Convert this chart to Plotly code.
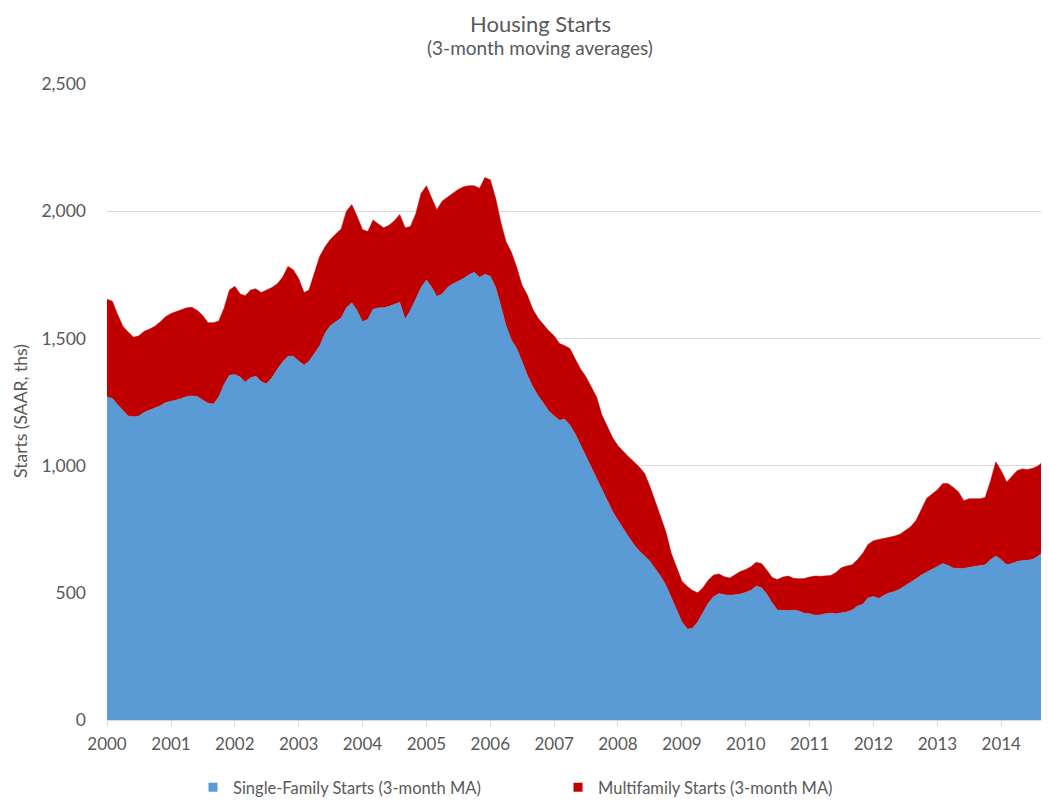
import pandas as pd
import plotly.graph_objects as go

# Monthly, Jan 2000 - Oct 2014 (thousands, SAAR, 3-month moving averages)
months = pd.date_range("2000-01-01", periods=178, freq="MS")

total_starts = [
    1654, 1646, 1595, 1548, 1525, 1505, 1510, 1528, 1537, 1548, 1565, 1585,  # 2000
    1598, 1605, 1610, 1620, 1622, 1610, 1590, 1562, 1562, 1568, 1620, 1690,  # 2001
    1705, 1675, 1668, 1690, 1695, 1680, 1690, 1700, 1715, 1740, 1783, 1770,  # 2002
    1735, 1680, 1690, 1760, 1822, 1860, 1889, 1910, 1930, 2000, 2026, 1980,  # 2003
    1928, 1920, 1965, 1950, 1935, 1945, 1962, 1987, 1935, 1940, 1990, 2070,  # 2004
    2100, 2050, 2006, 2040, 2055, 2073, 2085, 2096, 2100, 2100, 2090, 2132,  # 2005
    2124, 2050, 1960, 1880, 1840, 1780, 1710, 1670, 1615, 1580, 1555, 1530,  # 2006
    1510, 1480, 1472, 1460, 1420, 1380, 1350, 1310, 1270, 1200, 1156, 1110,  # 2007
    1078, 1055, 1035, 1015, 995, 970, 920, 860, 800, 740, 655, 600,          # 2008
    545, 525, 510, 500, 520, 550, 570, 574, 563, 558, 570, 584,              # 2009
    592, 603, 620, 615, 590, 560, 552, 562, 566, 557, 555, 556,              # 2010
    562, 566, 565, 566, 568, 580, 598, 605, 610, 630, 655, 690,              # 2011
    705, 710, 713, 718, 723, 730, 745, 760, 785, 830, 872, 888,              # 2012
    905, 930, 930, 915, 897, 862, 870, 870, 870, 875, 940, 1015,             # 2013
    980, 935, 955, 980, 987, 985, 990, 999, 1019, 1000,                      # 2014
]

single_family = [
    1270, 1264, 1240, 1215, 1195, 1192, 1195, 1210, 1218, 1225, 1235, 1248,  # 2000
    1252, 1258, 1264, 1272, 1274, 1272, 1258, 1245, 1242, 1270, 1320, 1355,  # 2001
    1358, 1348, 1328, 1345, 1352, 1330, 1322, 1345, 1379, 1407, 1430, 1430,  # 2002
    1411, 1395, 1410, 1440, 1470, 1520, 1550, 1565, 1580, 1620, 1640, 1610,  # 2003
    1565, 1575, 1615, 1620, 1620, 1626, 1635, 1642, 1575, 1610, 1655, 1700,  # 2004
    1730, 1700, 1665, 1675, 1700, 1715, 1725, 1735, 1750, 1760, 1740, 1752,  # 2005
    1744, 1700, 1630, 1550, 1495, 1460, 1410, 1355, 1310, 1275, 1245, 1215,  # 2006
    1195, 1178, 1183, 1160, 1125, 1080, 1035, 990, 950, 905, 860, 820,       # 2007
    785, 750, 720, 690, 665, 645, 625, 595, 565, 530, 480, 435,              # 2008
    385, 358, 360, 385, 420, 460, 485, 497, 492, 490, 492, 495,              # 2009
    502, 510, 527, 520, 495, 460, 432, 431, 430, 432, 428, 420,              # 2010
    418, 412, 413, 418, 420, 418, 420, 425, 432, 448, 455, 480,              # 2011
    485, 478, 490, 500, 505, 515, 528, 540, 555, 570, 582, 594,              # 2012
    605, 615, 608, 597, 596, 596, 600, 603, 605, 610, 630, 645,              # 2013
    630, 610, 615, 623, 627, 628, 632, 645, 662, 674,                        # 2014
]

multifamily = [t - s for t, s in zip(total_starts, single_family)]

series_names = ["Single-Family Starts (3-month MA)", "Multifamily Starts (3-month MA)"]
y_ticks = [0, 500, 1000, 1500, 2000, 2500]
y_tick_text = ["0", "500", "1,000", "1,500", "2,000", "2,500"]
x_ticks = pd.date_range("2000-01-01", "2014-01-01", freq="YS")
x_tick_text = [str(d.year) for d in x_ticks]

BLUE = "#5B9BD5"
RED = "#C00000"
GRAY = "#595959"
FONT = "Lato, 'Open Sans', sans-serif"

fig = go.Figure()
fig.add_trace(go.Scatter(
    x=months, y=single_family, name=series_names[0], showlegend=False,
    stackgroup="one", mode="lines", line=dict(color=BLUE, width=0.5),
    fillcolor=BLUE, legendgroup="sf",
))
fig.add_trace(go.Scatter(
    x=months, y=multifamily, name=series_names[1], showlegend=False,
    stackgroup="one", mode="lines", line=dict(color=RED, width=0.5),
    fillcolor=RED, legendgroup="mf",
))
# legend entries with small square swatches
for name, color, grp in [(series_names[0], BLUE, "sf"), (series_names[1], RED, "mf")]:
    fig.add_trace(go.Scatter(
        x=[None], y=[None], mode="markers", name=name, legendgroup=grp,
        marker=dict(symbol="square", size=9, color=color),
    ))

fig.update_layout(
    width=1041, height=797,
    margin=dict(l=99, r=0, t=76, b=83),
    paper_bgcolor="white", plot_bgcolor="white",
    font=dict(family=FONT, size=17, color=GRAY),
    showlegend=True,
    legend=dict(
        orientation="h", x=0.0913, xanchor="left", y=-0.1066, yanchor="middle",
        font=dict(size=16.5, color=GRAY), entrywidth=320, entrywidthmode="pixels",
        traceorder="normal",
    ),
    xaxis=dict(
        range=[months[0], months[-1]],
        tickvals=x_ticks, ticktext=x_tick_text,
        showgrid=False, showline=True, linecolor="#D9D9D9", linewidth=1,
        ticks="outside", ticklen=5, tickcolor="#D9D9D9", ticklabelstandoff=4,
        tickfont=dict(size=17, color=GRAY), zeroline=False,
    ),
    yaxis=dict(
        range=[0, 2500], tickvals=y_ticks, ticktext=y_tick_text,
        showgrid=True, gridcolor="#D9D9D9", gridwidth=1,
        zeroline=False, showline=False, ticks="",
        ticklabelstandoff=20, tickfont=dict(size=17.5, color=GRAY),
    ),
    annotations=[
        dict(text="Housing Starts", x=0.46, y=1.0956, xref="paper", yref="paper",
             showarrow=False, font=dict(size=22, color=GRAY), yanchor="middle"),
        dict(text="(3-month moving averages)", x=0.46, y=1.057, xref="paper", yref="paper",
             showarrow=False, font=dict(size=19, color=GRAY), yanchor="middle"),
        dict(text="Starts (SAAR, ths)", x=-0.0913, y=0.486, xref="paper", yref="paper",
             showarrow=False, textangle=-90, font=dict(size=17.5, color=GRAY),
             xanchor="center", yanchor="middle"),
    ],
)

fig.write_html("out.html")
